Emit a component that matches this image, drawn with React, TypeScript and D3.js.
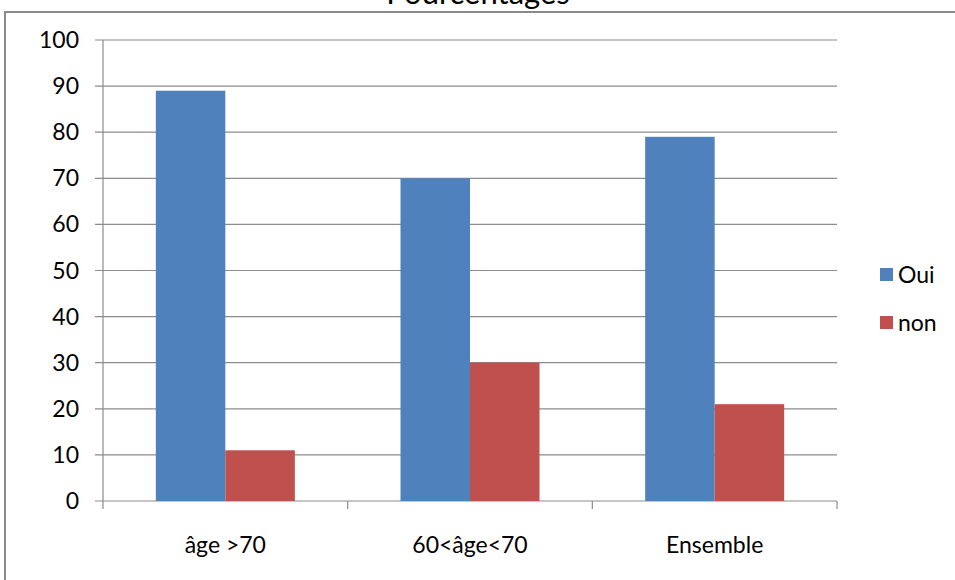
import React from "react";
import * as d3 from "d3";

const categories = ["âge >70", "60<âge<70", "Ensemble"];
const seriesNames = ["Oui", "non"];
const ouiValues = [89, 70, 79];
const nonValues = [11, 30, 21];
const yTicks = [0, 10, 20, 30, 40, 50, 60, 70, 80, 90, 100];
const colors = ["#4F81BD", "#C0504D"];
const title = "Pourcentages";

export default function App() {
  const W = 955, H = 580;
  const left = 103, right = 837, top = 40, bottom = 501;
  const font = "Lato, 'Open Sans', sans-serif";
  const y = d3.scaleLinear().domain([0, 100]).range([bottom, top]);
  const x0 = d3.scaleBand<string>().domain(categories).range([left, right]).padding(0);
  const x1 = d3.scaleBand<string>().domain(seriesNames).range([0, x0.bandwidth()]).paddingInner(0).paddingOuter(0.76);
  const series = [ouiValues, nonValues];
  const tickXs = [...categories.map((c) => x0(c) as number), right];

  return (
    <svg width={W} height={H} style={{ position: "absolute", left: 0, top: 0 }}>
      <rect x={0} y={0} width={W} height={H} fill="#fff" />
      <rect x={5} y={12} width={W + 10} height={H + 10} fill="#fff" stroke="#8a8a8a" strokeWidth={2} />
      <text x={478} y={4} textAnchor="middle" fontFamily={font} fontSize={31} fill="#000">{title}</text>
      {yTicks.map((t) => (
        <g key={t}>
          <line x1={95} x2={right} y1={y(t)} y2={y(t)} stroke="#8c8c8c" strokeWidth={1.2} />
          <text x={79} y={y(t) + 8} textAnchor="end" fontFamily={font} fontSize={23} fill="#000">{t}</text>
        </g>
      ))}
      <line x1={left} x2={left} y1={top} y2={bottom} stroke="#8c8c8c" strokeWidth={1.2} />
      {tickXs.map((tx, i) => (
        <line key={i} x1={tx} x2={tx} y1={bottom} y2={bottom + 8} stroke="#8c8c8c" strokeWidth={1.2} />
      ))}
      {categories.map((c, ci) => (
        <g key={c}>
          {seriesNames.map((s, si) => {
            const v = series[si][ci];
            const bx = (x0(c) as number) + (x1(s) as number);
            return <rect key={s} x={bx} y={y(v)} width={x1.bandwidth()} height={bottom - y(v)} fill={colors[si]} />;
          })}
          <text x={(x0(c) as number) + x0.bandwidth() / 2} y={553} textAnchor="middle" fontFamily={font} fontSize={23} fill="#000">{c}</text>
        </g>
      ))}
      {seriesNames.map((s, si) => (
        <g key={s}>
          <rect x={880} y={268 + si * 48} width={13} height={13} fill={colors[si]} />
          <text x={898} y={283 + si * 48} fontFamily={font} fontSize={23} fill="#000">{s}</text>
        </g>
      ))}
    </svg>
  );
}
